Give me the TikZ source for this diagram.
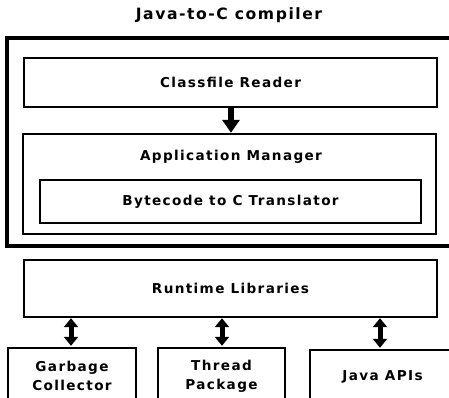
\documentclass[tikz,border=0pt]{standalone}
\usepackage{fontspec}
\setsansfont[LetterSpace=10]{DejaVu Sans}
\usepackage{tikz}
\usetikzlibrary{positioning,arrows.meta}

\begin{document}
\begin{tikzpicture}
  [x=1pt,y=-1pt,
   every node/.style={font=\sffamily\bfseries\fontsize{13.6}{19}\selectfont},
   box/.style={draw=black,line width=2.4pt,rectangle,inner sep=0pt},
   txt/.style={draw=none,align=center},
   flow/.style={line width=6pt,-{Triangle[width=17pt,length=13pt]}},
   both/.style={line width=5pt,{Triangle[width=14pt,length=9pt]}-{Triangle[width=14pt,length=9pt]}}]
  \clip (0,0) rectangle (449,398);
  \fill[white] (0,0) rectangle (449,398);

  \node[txt,font=\sffamily\bfseries\fontsize{15.6}{19}\selectfont] (title) at (229,15) {Java-to-C compiler};
  \node[box,line width=3.6pt,minimum width=450pt,minimum height=208pt] (outer) at (232,142) {};

  \node[box,minimum width=413pt,minimum height=49pt] (reader) at (230.5,82.5) {Classfile Reader};
  \node[box,minimum width=413pt,minimum height=100pt] (appmgr) at (229.5,184) {};
  \node[txt] (appname) at (231,157) {Application Manager};
  \node[box,minimum width=381pt,minimum height=43pt] (trans) at (230.5,201.5) {Bytecode to C Translator};

  \node[box,minimum width=413pt,minimum height=57pt] (runtime) at (230.5,288.5) {Runtime Libraries};
  \node[box,minimum width=128pt,minimum height=56pt,align=center] (gc) at (72,376) {Garbage\\Collector};
  \node[box,minimum width=127pt,minimum height=56pt,align=center] (thread) at (221.5,376) {Thread\\Package};
  \node[box,minimum width=145pt,minimum height=54pt] (japi) at (382.5,377) {Java APIs};

  \draw[flow] (reader.south -| 231,0) -- (appmgr.north -| 231,0);
  \draw[both] (gc.north -| 71,0) ++(0,-1) -- (runtime.south -| 71,0);
  \draw[both] (thread.north -| 222,0) ++(0,-1) -- (runtime.south -| 222,0);
  \draw[both] (japi.north -| 380,0) ++(0,-1) -- (runtime.south -| 380,0);
\end{tikzpicture}
\end{document}
